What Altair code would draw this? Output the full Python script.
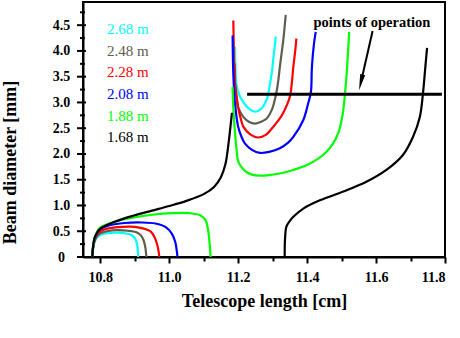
import altair as alt
import pandas as pd

# ---------------- data ----------------
series = ["2.68 m", "2.48 m", "2.28 m", "2.08 m", "1.88 m", "1.68 m"]
colors = ["#00FFFF", "#5E5E4E", "#FF0000", "#0000FF", "#00FF00", "#000000"]

cyan_left_x = [10.777, 10.779, 10.783, 10.790, 10.800, 10.815, 10.835, 10.865, 10.885, 10.896, 10.903, 10.907, 10.909, 10.910]
cyan_left_y = [0, 0.15, 0.28, 0.37, 0.43, 0.46, 0.47, 0.47, 0.44, 0.40, 0.33, 0.24, 0.12, 0]
cyan_right_x = [11.191, 11.192, 11.195, 11.205, 11.220, 11.235, 11.250, 11.262, 11.275, 11.285, 11.292, 11.298, 11.302, 11.306, 11.309]
cyan_right_y = [4.08, 3.70, 3.35, 3.12, 2.96, 2.86, 2.82, 2.85, 2.95, 3.10, 3.35, 3.60, 3.85, 4.08, 4.28]

gray_left_x = [10.777, 10.779, 10.783, 10.790, 10.800, 10.820, 10.850, 10.880, 10.905, 10.918, 10.926, 10.931, 10.933, 10.934]
gray_left_y = [0, 0.16, 0.30, 0.40, 0.46, 0.50, 0.52, 0.51, 0.48, 0.42, 0.32, 0.18, 0.06, 0]
gray_right_x = [11.190, 11.192, 11.196, 11.200, 11.215, 11.232, 11.249, 11.265, 11.283, 11.298, 11.310, 11.316, 11.321, 11.326, 11.331, 11.338]
gray_right_y = [3.76, 3.30, 3.05, 2.91, 2.72, 2.62, 2.59, 2.62, 2.69, 2.86, 3.16, 3.40, 3.69, 3.95, 4.21, 4.70]

red_left_x = [10.777, 10.779, 10.783, 10.790, 10.800, 10.820, 10.850, 10.890, 10.920, 10.945, 10.958, 10.966, 10.970, 10.971]
red_left_y = [0, 0.17, 0.32, 0.43, 0.50, 0.55, 0.58, 0.59, 0.56, 0.50, 0.38, 0.22, 0.08, 0]
red_right_x = [11.186, 11.187, 11.188, 11.190, 11.196, 11.200, 11.207, 11.215, 11.235, 11.258, 11.280, 11.302, 11.320, 11.331, 11.350, 11.356, 11.360, 11.365, 11.369]
red_right_y = [4.59, 4.20, 3.82, 3.43, 3.11, 2.90, 2.70, 2.53, 2.38, 2.32, 2.37, 2.53, 2.68, 2.80, 3.11, 3.40, 3.69, 3.97, 4.24]

blue_left_x = [10.777, 10.779, 10.783, 10.790, 10.800, 10.830, 10.870, 10.920, 10.960, 10.990, 11.008, 11.018, 11.022, 11.024]
blue_left_y = [0, 0.18, 0.34, 0.46, 0.54, 0.62, 0.66, 0.67, 0.65, 0.58, 0.45, 0.28, 0.12, 0]
blue_right_x = [11.184, 11.185, 11.187, 11.191, 11.200, 11.210, 11.220, 11.240, 11.263, 11.290, 11.321, 11.345, 11.360, 11.389, 11.403, 11.411, 11.414, 11.420, 11.425]
blue_right_y = [4.30, 3.80, 3.40, 2.98, 2.53, 2.33, 2.20, 2.08, 2.02, 2.04, 2.11, 2.22, 2.33, 2.66, 2.98, 3.20, 3.69, 4.14, 4.37]

green_left_x = [10.777, 10.779, 10.783, 10.790, 10.800, 10.840, 10.890, 10.950, 11.010, 11.060, 11.090, 11.105, 11.113, 11.117, 11.120]
green_left_y = [0, 0.19, 0.35, 0.48, 0.57, 0.68, 0.76, 0.82, 0.85, 0.85, 0.81, 0.72, 0.52, 0.28, 0]
green_right_x = [11.184, 11.186, 11.191, 11.196, 11.200, 11.210, 11.222, 11.240, 11.263, 11.290, 11.321, 11.360, 11.398, 11.430, 11.456, 11.475, 11.490, 11.500, 11.505, 11.509, 11.514, 11.519, 11.522]
green_right_y = [3.30, 2.90, 2.40, 2.05, 1.86, 1.74, 1.66, 1.60, 1.58, 1.59, 1.62, 1.69, 1.78, 1.90, 2.04, 2.20, 2.40, 2.65, 2.85, 3.11, 3.49, 4.01, 4.37]

black_left_x = [10.777, 10.780, 10.785, 10.800, 10.840, 10.900, 10.950, 11.000, 11.050, 11.100, 11.130, 11.150, 11.163, 11.172, 11.178, 11.182]
black_left_y = [0, 0.25, 0.40, 0.55, 0.68, 0.81, 0.90, 0.99, 1.09, 1.22, 1.36, 1.55, 1.80, 2.20, 2.55, 2.80]
black_right_x = [11.335, 11.336, 11.340, 11.350, 11.360, 11.389, 11.437, 11.505, 11.572, 11.630, 11.678, 11.707, 11.727, 11.736, 11.743, 11.748]
black_right_y = [0, 0.35, 0.59, 0.70, 0.78, 0.94, 1.10, 1.27, 1.46, 1.69, 1.98, 2.33, 2.72, 3.17, 3.69, 4.06]

legend_y = [4.43, 4.00, 3.59, 3.17, 2.74, 2.33]

x_ticks = [10.8, 10.9, 11.0, 11.1, 11.2, 11.3, 11.4, 11.5, 11.6, 11.7, 11.8]
y_major = [0, 0.5, 1.0, 1.5, 2.0, 2.5, 3.0, 3.5, 4.0, 4.5]
y_minor = [0.25, 0.75, 1.25, 1.75, 2.25, 2.75, 3.25, 3.75, 4.25, 4.75]

operation_y = 3.16
operation_x = [11.226, 11.791]
annot_text = "points of operation"

# ---------------- build table ----------------
curves = {
    "2.68 m": [(cyan_left_x, cyan_left_y), (cyan_right_x, cyan_right_y)],
    "2.48 m": [(gray_left_x, gray_left_y), (gray_right_x, gray_right_y)],
    "2.28 m": [(red_left_x, red_left_y), (red_right_x, red_right_y)],
    "2.08 m": [(blue_left_x, blue_left_y), (blue_right_x, blue_right_y)],
    "1.88 m": [(green_left_x, green_left_y), (green_right_x, green_right_y)],
    "1.68 m": [(black_left_x, black_left_y), (black_right_x, black_right_y)],
}
rows = []
draw_rank = {s: i for i, s in enumerate(reversed(series))}
for s in series:
    for seg, (xs, ys) in enumerate(curves[s]):
        for i, (xv, yv) in enumerate(zip(xs, ys)):
            rows.append({"series": s, "key": f"{draw_rank[s]}-{s}-{seg}", "idx": i, "x": xv, "y": yv})
df = pd.DataFrame(rows)

FONT = "Liberation Serif, Times New Roman, DejaVu Serif, serif"
xscale = alt.Scale(domain=[10.75, 11.8], nice=False, zero=False)
yscale = alt.Scale(domain=[0, 4.95], nice=False, zero=True)
cscale = alt.Scale(domain=series, range=colors)

xaxis = alt.Axis(
    values=x_ticks, title="Telescope length [cm]", grid=False, labelOverlap=False,
    labelExpr="round(datum.value*10) % 2 == 0 ? format(datum.value, '.1f') : ''",
    tickSize={"condition": {"test": "round(datum.value*10) % 2 == 0", "value": 6}, "value": 4},
    labelPadding=7, titlePadding=8,
)
yaxis = alt.Axis(
    values=y_major, title="Beam diameter [mm]", grid=False, labelOverlap=False,
    labelExpr="datum.value == 0 ? '0' : format(datum.value, '.1f')",
    ticks=False, labelAlign="center", labelPadding=22,
    titleX=-64, titleY=160,
)


def X(field):
    return alt.X(field, scale=xscale, axis=xaxis)


def Y(field):
    return alt.Y(field, scale=yscale, axis=yaxis)


lines = alt.Chart(df).mark_line(strokeWidth=2.2, interpolate="catmull-rom").encode(
    x=X("x:Q"),
    y=Y("y:Q"),
    color=alt.Color("series:N", scale=cscale, legend=None),
    detail="key:N",
    order="idx:Q",
)

# y-axis ticks crossing the axis line (major longer than minor)
ymaj_df = pd.DataFrame({"y": y_major})
ymin_df = pd.DataFrame({"y": y_minor})
ymaj_ticks = alt.Chart(ymaj_df).mark_rule(strokeWidth=2, color="black").encode(
    y=Y("y:Q"), x=alt.value(-6), x2=alt.value(3)
)
ymin_ticks = alt.Chart(ymin_df).mark_rule(strokeWidth=2, color="black").encode(
    y=Y("y:Q"), x=alt.value(-3), x2=alt.value(2)
)

leg_df = pd.DataFrame({"series": series, "y": legend_y})
legend_text = alt.Chart(leg_df).mark_text(
    align="left", baseline="middle", font=FONT, fontSize=15
).encode(
    x=alt.value(24),
    y=Y("y:Q"),
    text="series:N",
    color=alt.Color("series:N", scale=cscale, legend=None),
)

op_df = pd.DataFrame({"x": [operation_x[0]], "x2": [operation_x[1]], "y": [operation_y]})
op_line = alt.Chart(op_df).mark_rule(strokeWidth=3, color="black").encode(
    x=X("x:Q"), x2="x2:Q", y=Y("y:Q")
)

arrow_df = pd.DataFrame({"x": [11.590], "x2": [11.556], "y": [4.386], "y2": [3.388]})
arrow_line = alt.Chart(arrow_df).mark_rule(strokeWidth=2, color="black").encode(
    x=X("x:Q"), x2="x2:Q", y=Y("y:Q"), y2="y2:Q",
)
head_df = pd.DataFrame({"x": [11.556], "y": [3.388]})
arrow_head = alt.Chart(head_df).mark_point(
    shape="M0,1L-0.32,-1L0.32,-1Z", size=256, filled=True, color="black",
    opacity=1, angle=13, strokeWidth=0
).encode(x=X("x:Q"), y=Y("y:Q"))

txt_df = pd.DataFrame({"x": [11.588], "y": [4.54], "t": [annot_text]})
annot = alt.Chart(txt_df).mark_text(
    font=FONT, fontSize=14.5, fontWeight="bold", align="center", baseline="middle", color="black"
).encode(x=X("x:Q"), y=Y("y:Q"), text="t:N")

chart = alt.layer(
    lines, ymaj_ticks, ymin_ticks, op_line, arrow_line, arrow_head, annot, legend_text
).properties(
    width=362, height=255,
    padding={"left": 83, "top": 2, "right": 15, "bottom": 81},
    autosize=alt.AutoSizeParams(type="none"),
    background="white",
).configure_view(
    stroke="black", strokeWidth=2
).configure_axis(
    domainColor="black", domainWidth=2, tickColor="black", tickWidth=2,
    labelFont=FONT, labelFontWeight="bold", labelFontSize=14, labelColor="black",
    titleFont=FONT, titleFontWeight="bold", titleFontSize=18, titleColor="black",
)

chart.save("out.html", embed_options={"renderer": "svg", "actions": False})
